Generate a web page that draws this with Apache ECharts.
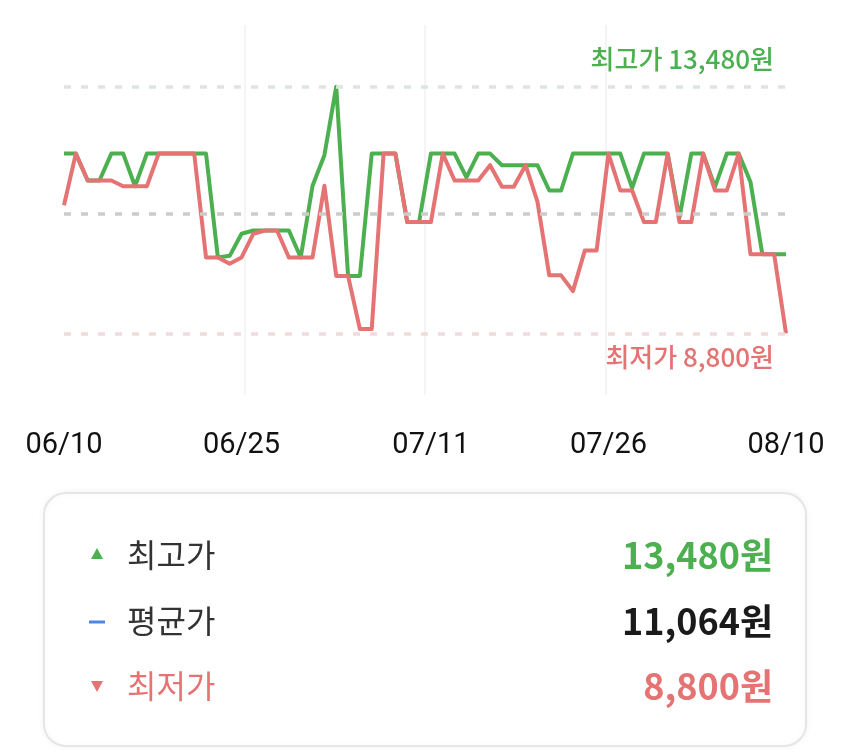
<!DOCTYPE html>
<html>
<head>
<meta charset="utf-8">
<script src="https://cdn.jsdelivr.net/npm/echarts@6/dist/echarts.min.js"></script>
<style>
html,body{margin:0;padding:0;background:#fff;}
#chart{width:850px;height:753px;}
</style>
</head>
<body>
<div id="chart"></div>
<script>
// ---- data ----
var dates = [
  '06/10','06/11','06/12','06/13','06/14','06/15','06/16','06/17','06/18','06/19',
  '06/20','06/21','06/22','06/23','06/24','06/25','06/26','06/27','06/28','06/29','06/30',
  '07/01','07/02','07/03','07/04','07/05','07/06','07/07','07/08','07/09','07/10',
  '07/11','07/12','07/13','07/14','07/15','07/16','07/17','07/18','07/19','07/20',
  '07/21','07/22','07/23','07/24','07/25','07/26','07/27','07/28','07/29','07/30','07/31',
  '08/01','08/02','08/03','08/04','08/05','08/06','08/07','08/08','08/09','08/10'
];
var tickLabels = ['06/10','06/25','07/11','07/26','08/10'];
var maxPrices = [
  12210,12210,11700,11700,12210,12210,11590,12210,12210,12210,
  12210,12210,12210,10240,10270,10690,10750,10750,10750,10750,10240,
  11600,12180,13480,9890,9890,12210,12210,12210,10910,10910,
  12210,12210,12210,11760,12210,12210,11990,11990,11990,11990,
  11510,11510,12210,12210,12210,12210,12210,11560,12210,12210,12210,
  11000,12210,12210,11580,12210,12210,11670,10300,10300,10300
];
var minPrices = [
  11230,12210,11700,11700,11700,11590,11590,11590,12210,12210,
  12210,12210,10240,10240,10120,10240,10690,10750,10750,10240,10240,
  10240,11600,9890,9890,8880,8880,12210,12210,10910,10910,
  10910,12210,11700,11700,11700,11990,11580,11580,11990,11300,
  9900,9900,9600,10370,10370,12210,11510,11510,10910,10910,12210,
  10910,10910,12210,11510,11510,12210,10300,10300,10300,8800
];
var highestPrice = 13480;
var averagePrice = 11064;
var lowestPrice = 8800;
var summaryLabels = ['최고가','평균가','최저가'];

// ---- helpers ----
function won(v){ return v.toLocaleString('en-US') + '원'; }
var GREEN = '#4caf50', RED = '#e57373', BLUE = '#4a86e8';
var CJK = "'Noto Sans CJK KR','Noto Sans',sans-serif";
var pad = (highestPrice - lowestPrice) * 0.25;

var chart = echarts.init(document.getElementById('chart'), null, {renderer:'canvas'});
var option = {
  animation: false,
  backgroundColor: '#fff',
  grid: { left: 64, right: 64, top: 25, height: 370 },
  xAxis: [{
    type: 'category',
    data: dates,
    boundaryGap: false,
    axisLine: { show: false },
    axisTick: { show: false },
    splitLine: { show: false },
    axisLabel: {
      interval: function(idx, val){ return tickLabels.indexOf(val) >= 0; },
      margin: 36,
      color: '#111',
      fontSize: 29,
      fontFamily: 'Roboto, sans-serif',
      showMinLabel: true,
      showMaxLabel: true
    }
  }, {
    type: 'value',
    min: 0, max: dates.length - 1,
    interval: (dates.length - 1) / 4,
    show: true,
    axisLine: { show: false },
    axisTick: { show: false },
    axisLabel: { show: false },
    splitLine: { show: true, showMinLine: false, showMaxLine: false, lineStyle: { color: '#f1f1f3', width: 1.5 } }
  }],
  yAxis: {
    type: 'value',
    min: lowestPrice - pad,
    max: highestPrice + pad,
    show: false,
    splitLine: { show: false }
  },
  series: [{
    name: '최고가',
    type: 'line',
    xAxisIndex: 0,
    data: maxPrices,
    symbol: 'none',
    lineStyle: { color: GREEN, width: 4, join: 'round' },
    z: 3,
    markLine: {
      silent: true,
      symbol: 'none',
      data: [
        { yAxis: highestPrice,
          lineStyle: { color: '#dce6dd', type: [7, 10], width: 3.5 },
          label: { show: true, position: 'insideEndTop', formatter: '최고가 ' + won(highestPrice),
                   color: GREEN, fontSize: 26, fontWeight: 500, fontFamily: CJK, distance: [12, 15] } },
        { yAxis: averagePrice,
          lineStyle: { color: '#cbcbcb', type: [7, 10], width: 3.5 },
          label: { show: false } }
      ]
    }
  }, {
    name: '최저가',
    type: 'line',
    xAxisIndex: 0,
    data: minPrices,
    symbol: 'none',
    lineStyle: { color: RED, width: 4, join: 'round' },
    z: 4,
    markLine: {
      silent: true,
      symbol: 'none',
      data: [
        { yAxis: lowestPrice,
          lineStyle: { color: '#f0dcdc', type: [7, 10], width: 3.5 },
          label: { show: true, position: 'insideEndBottom', formatter: '최저가 ' + won(lowestPrice),
                   color: RED, fontSize: 26, fontWeight: 500, fontFamily: CJK, distance: [12, 11] } }
      ]
    }
  }],
  graphic: [
    { type: 'rect', shape: { x: 44, y: 493, width: 762, height: 253, r: 22 },
      style: { fill: '#fff', stroke: '#e6e6e6', lineWidth: 2, shadowBlur: 6, shadowColor: 'rgba(0,0,0,0.05)' }, z: 1 },
    // row 1
    { type: 'polygon', shape: { points: [[97, 548], [91, 559], [103, 559]] }, style: { fill: GREEN }, z: 2 },
    { type: 'text', x: 127, y: 555, style: { text: summaryLabels[0], fill: '#333', font: '400 32px ' + CJK, align: 'left', verticalAlign: 'middle' }, z: 2 },
    { type: 'text', x: 773, y: 555, style: { text: won(highestPrice), fill: GREEN, font: '700 36px ' + CJK, align: 'right', verticalAlign: 'middle' }, z: 2 },
    // row 2
    { type: 'rect', shape: { x: 89, y: 620.5, width: 16, height: 3 }, style: { fill: BLUE }, z: 2 },
    { type: 'text', x: 127, y: 621, style: { text: summaryLabels[1], fill: '#333', font: '400 32px ' + CJK, align: 'left', verticalAlign: 'middle' }, z: 2 },
    { type: 'text', x: 773, y: 621, style: { text: won(averagePrice), fill: '#1a1a1a', font: '700 36px ' + CJK, align: 'right', verticalAlign: 'middle' }, z: 2 },
    // row 3
    { type: 'polygon', shape: { points: [[91, 681], [103, 681], [97, 692]] }, style: { fill: RED }, z: 2 },
    { type: 'text', x: 127, y: 686, style: { text: summaryLabels[2], fill: RED, font: '400 32px ' + CJK, align: 'left', verticalAlign: 'middle' }, z: 2 },
    { type: 'text', x: 773, y: 686, style: { text: won(lowestPrice), fill: RED, font: '700 36px ' + CJK, align: 'right', verticalAlign: 'middle' }, z: 2 }
  ]
};
chart.setOption(option);
</script>
</body>
</html>
